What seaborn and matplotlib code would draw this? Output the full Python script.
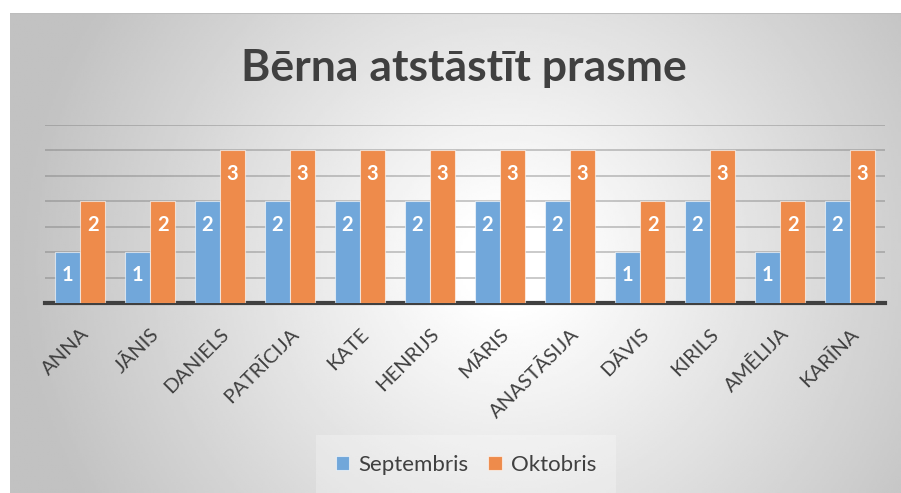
import numpy as np
import pandas as pd
import matplotlib
matplotlib.use('Agg')
import matplotlib.pyplot as plt
import seaborn as sns

# Chart data
names = ['ANNA', 'JĀNIS', 'DANIELS', 'PATRĪCIJA', 'KATE', 'HENRIJS',
         'MĀRIS', 'ANASTĀSIJA', 'DĀVIS', 'KIRILS', 'AMĒLIJA', 'KARĪNA']
septembris = [1, 1, 2, 2, 2, 2, 2, 2, 1, 2, 1, 2]
oktobris = [2, 2, 3, 3, 3, 3, 3, 3, 2, 3, 2, 3]
series = ['Septembris', 'Oktobris']
title = 'Bērna atstāstīt prasme'

df = pd.DataFrame({
    'name': names * 2,
    'value': septembris + oktobris,
    'month': [series[0]] * len(names) + [series[1]] * len(names),
})

sns.set_theme(style='white')
plt.rcParams['font.family'] = ['Lato', 'DejaVu Sans']

text_color = '#404040'
colors = {'Septembris': '#71A7DA', 'Oktobris': '#EE8B4B'}

W, H = 901, 493
fig = plt.figure(figsize=(W / 100, H / 100), dpi=100)
fig.patch.set_facecolor('white')

# Radial gradient chart background (white in the middle, grey corners)
bg = fig.add_axes([10 / W, 0, (W - 10) / W, (H - 13) / H], zorder=-10)
gx, gy = np.meshgrid(np.linspace(0, 1, 400), np.linspace(0, 1, 220))
r = np.sqrt(((gx - 0.56) * 1.0) ** 2 + ((gy - 0.48) * 0.55) ** 2)
shade = 1 - 0.24 * np.clip((r - 0.05) / 0.5, 0, 1.0)
bg.imshow(shade, cmap='gray', vmin=0, vmax=1, aspect='auto', extent=[0, 1, 0, 1], origin='lower')
bg.set_axis_off()
bg.axhline(1, color='#bdbdbd', lw=1.5)

ax = fig.add_axes([45 / W, 1 - 303 / H, 840 / W, 178 / H])
ax.patch.set_alpha(0)

sns.barplot(data=df, x='name', y='value', hue='month', palette=colors,
            width=0.72, ax=ax, edgecolor=(1, 1, 1, 0.6), linewidth=0.8,
            saturation=1, zorder=3)

ax.set_ylim(0, 3.5)
ax.set_xlim(-0.5, len(names) - 0.5)
ax.set_yticks(np.arange(0.5, 3.51, 0.5))
ax.set_yticklabels([])
ax.tick_params(axis='y', length=0)
ax.grid(axis='y', color='#707070', alpha=0.4, lw=1.3, zorder=0)
ax.set_axisbelow(True)
for s in ['top', 'right', 'left']:
    ax.spines[s].set_visible(False)
ax.spines['bottom'].set_color(text_color)
ax.spines['bottom'].set_linewidth(3)
ax.set_xlabel('')
ax.set_ylabel('')

ax.tick_params(axis='x', length=0, pad=16)
plt.setp(ax.get_xticklabels(), rotation=45, ha='right', rotation_mode='anchor',
         fontsize=14.5, color=text_color)

for cont in ax.containers:
    ax.bar_label(cont, label_type='edge', padding=-24, color='white',
                 fontsize=14.5, fontweight='bold')

leg = ax.legend(loc='center', bbox_to_anchor=(466 / W, 1 - 465 / H),
                bbox_transform=fig.transFigure, ncol=2, frameon=True,
                fontsize=16, handlelength=0.6, handleheight=0.6,
                columnspacing=0.9, handletextpad=0.4, labelcolor=text_color,
                framealpha=0.25, borderpad=0.6)
leg.get_frame().set_facecolor('white')
leg.get_frame().set_edgecolor('none')
leg.get_frame().set_boxstyle('square', pad=0.3)

fig.text(464 / W, 1 - 68 / H, title, ha='center', va='center',
         fontsize=32, fontweight='bold', color=text_color)

fig.savefig('out.png', dpi=100)
